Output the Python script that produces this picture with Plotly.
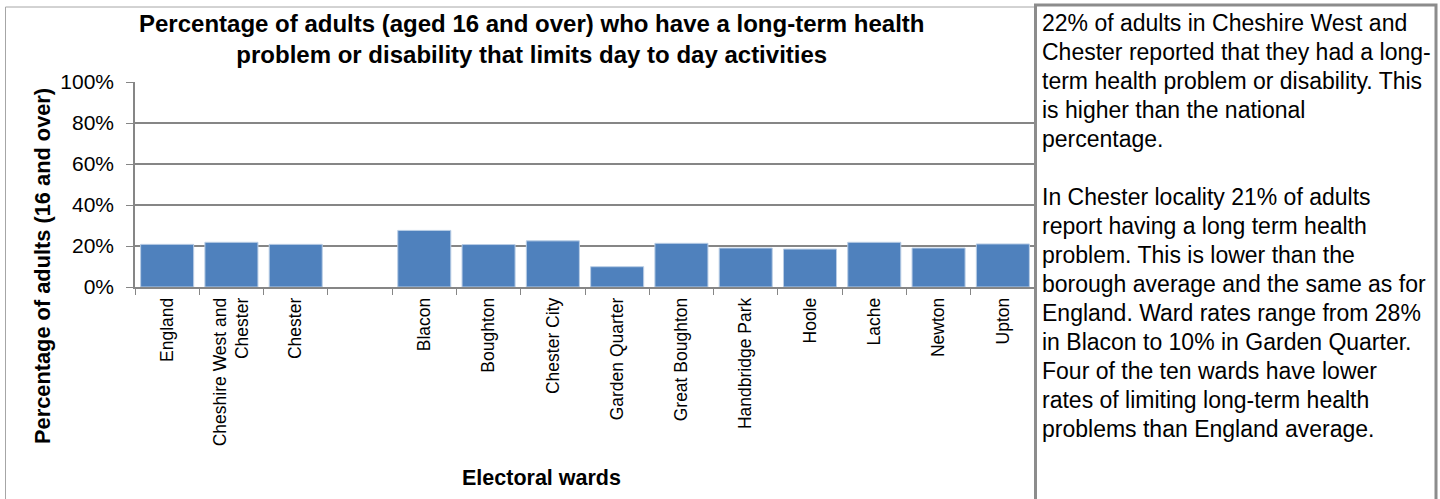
import plotly.graph_objects as go

categories = ["England", "Cheshire West and<br>Chester", "Chester", " ",
              "Blacon", "Boughton", "Chester City", "Garden Quarter",
              "Great Boughton", "Handbridge Park", "Hoole", "Lache",
              "Newton", "Upton"]
values = [20.8, 21.8, 20.8, None,
          27.6, 20.7, 22.5, 9.9,
          21.3, 19.0, 18.5, 21.8,
          19.0, 21.0]
y_ticks = [0, 20, 40, 60, 80, 100]

title_lines = ["Percentage of adults (aged 16 and over) who have a long-term health",
               "problem or disability that limits day to day activities"]
y_title = "Percentage of adults (16 and over)"
x_title = "Electoral wards"
note_lines = [
    "22% of adults in Cheshire West and",
    "Chester reported that they had a long-",
    "term health problem or disability. This",
    "is higher than the national",
    "percentage.",
    "",
    "In Chester locality 21% of adults",
    "report having a long term health",
    "problem. This is lower than the",
    "borough average and the same as for",
    "England. Ward rates range from 28%",
    "in Blacon to 10% in Garden Quarter.",
    "Four of the ten wards have lower",
    "rates of limiting long-term health",
    "problems than England average.",
]

W, H = 1440, 499
L, R, T, B = 135, 1035, 82, 287
FONT = "Liberation Sans, Arial, sans-serif"


def px(x):
    return (x - L) / (R - L)


def py(y):
    return (B - y) / (B - T)


fig = go.Figure()
fig.add_trace(go.Bar(
    x=categories, y=values,
    marker=dict(color="#4F81BD", line=dict(color="#B9CDE5", width=1)),
    hoverinfo="x+y",
))

fig.update_layout(
    width=W, height=H,
    margin=dict(l=L, r=W - R, t=T, b=H - B, pad=0),
    paper_bgcolor="white", plot_bgcolor="white",
    bargap=0.175,
    showlegend=False,
    font=dict(family=FONT, color="black"),
)

fig.update_xaxes(
    type="category", categoryorder="array", categoryarray=categories,
    tickangle=-90, tickfont=dict(size=17.5, family=FONT, color="black"),
    showline=True, linecolor="#868686", linewidth=1.5,
    ticks="outside", ticklen=6, tickcolor="#868686", tickson="boundaries",
    ticklabelstandoff=2,
    showgrid=False, zeroline=False, fixedrange=True,
)
fig.update_yaxes(
    range=[0, 100], tickvals=y_ticks, ticktext=[f"{v}%" for v in y_ticks],
    tickfont=dict(size=21, family=FONT, color="black"),
    showline=True, linecolor="#868686", linewidth=1.5,
    ticks="outside", ticklen=7, tickcolor="#868686",
    showgrid=True, gridcolor="#868686", gridwidth=1.6,
    zeroline=False, ticklabelstandoff=8, fixedrange=True,
)

# chart area border and text box border
fig.add_shape(type="rect", xref="paper", yref="paper",
              x0=px(5.5), x1=px(1035), y0=py(505), y1=py(7),
              line=dict(color="#A6A6A6", width=1), layer="below")
fig.add_shape(type="rect", xref="paper", yref="paper",
              x0=px(1035.5), x1=px(1436), y0=py(505), y1=py(5),
              line=dict(color="#8C8C8C", width=3))

fig.add_annotation(text="<br>".join(title_lines), xref="paper", yref="paper",
                   x=px(532), y=py(39), xanchor="center", yanchor="middle",
                   showarrow=False, align="center",
                   font=dict(size=24, family=FONT, color="black", weight="bold"))
fig.add_annotation(text=y_title, xref="paper", yref="paper",
                   x=px(42), y=py(266), xanchor="center", yanchor="middle",
                   textangle=-90, showarrow=False,
                   font=dict(size=21.8, family=FONT, color="black", weight="bold"))
fig.add_annotation(text=x_title, xref="paper", yref="paper",
                   x=px(541), y=py(478), xanchor="center", yanchor="middle",
                   showarrow=False,
                   font=dict(size=21.5, family=FONT, color="black", weight="bold"))
for i, line in enumerate(note_lines):
    if not line:
        continue
    fig.add_annotation(text=line, xref="paper", yref="paper",
                       x=px(1040), y=py(23 + 29 * i), xanchor="left", yanchor="middle",
                       showarrow=False, align="left",
                       font=dict(size=23, family=FONT, color="black"))

fig.write_html("out.html", config={"displayModeBar": False},
               post_script="document.body.style.margin='0px';")
